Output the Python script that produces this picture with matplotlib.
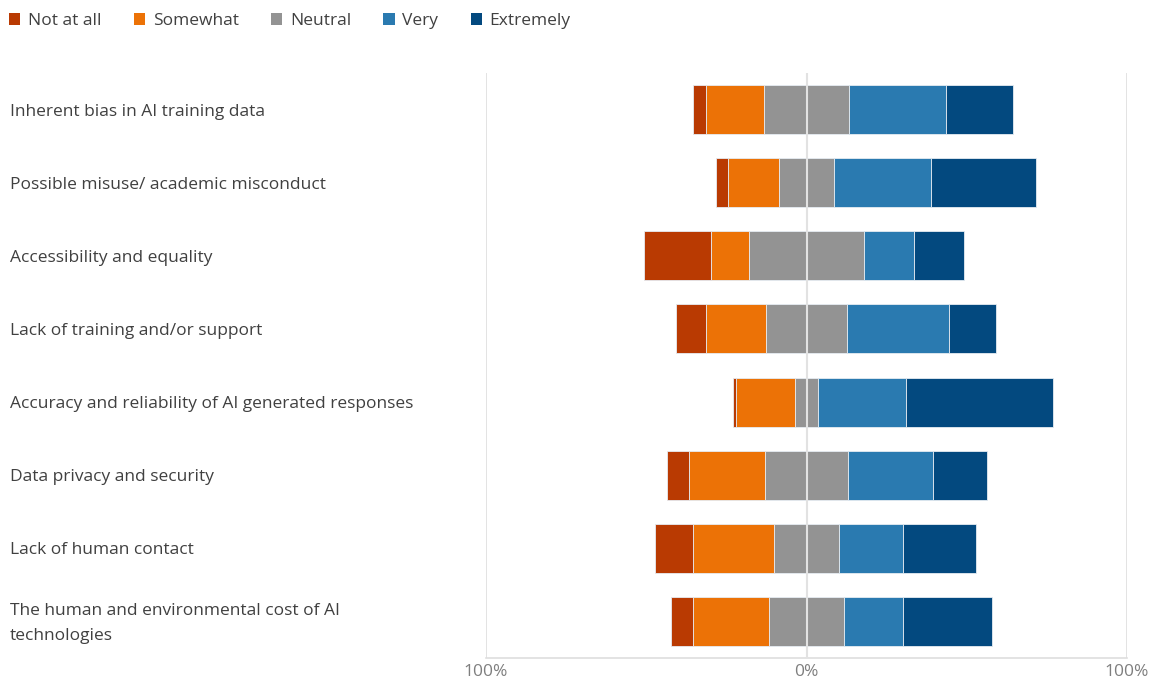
import matplotlib.pyplot as plt
import matplotlib.transforms as mtransforms
from matplotlib.patches import Patch
import numpy as np

plt.rcParams['font.family'] = ['Open Sans', 'DejaVu Sans']

concerns = [
    "Inherent bias in AI training data",
    "Possible misuse/ academic misconduct",
    "Accessibility and equality",
    "Lack of training and/or support",
    "Accuracy and reliability of AI generated responses",
    "Data privacy and security",
    "Lack of human contact",
    "The human and environmental cost of AI\ntechnologies",
]
not_at_all = [4.1, 3.7, 20.9, 9.4, 1.2, 6.6, 11.9, 6.6]
somewhat = [18.1, 15.9, 11.9, 18.7, 18.4, 23.7, 25.3, 23.7]
neutral = [26.5, 17.2, 35.6, 25.3, 6.9, 26.2, 20.0, 23.7]
very = [30.3, 30.3, 15.6, 31.8, 27.5, 26.5, 20.0, 18.4]
extremely = [20.9, 32.8, 15.6, 14.7, 45.9, 16.8, 22.8, 27.5]

categories = ["Not at all", "Somewhat", "Neutral", "Very", "Extremely"]
colors = ["#b93a02", "#ec7206", "#939393", "#2a7ab0", "#03497f"]

fig = plt.figure(figsize=(11.53, 6.82), dpi=100)
ax = fig.add_axes([486 / 1153, 24 / 682, 641 / 1153, 585 / 682])

y = np.arange(len(concerns))
half = np.array(neutral) / 2
edge = dict(edgecolor="#e6ecf2", linewidth=0.6, height=0.67)

# negative side: neutral half, then somewhat, then not at all
left = -half
ax.barh(y, half, left=left, color=colors[2], **edge)
left = left - np.array(somewhat)
ax.barh(y, somewhat, left=left, color=colors[1], **edge)
left = left - np.array(not_at_all)
ax.barh(y, not_at_all, left=left, color=colors[0], **edge)

# positive side: neutral half, very, extremely
left = np.zeros(len(concerns))
ax.barh(y, half, left=left, color=colors[2], **edge)
left = left + half
ax.barh(y, very, left=left, color=colors[3], **edge)
left = left + np.array(very)
ax.barh(y, extremely, left=left, color=colors[4], **edge)

ax.set_xlim(-100, 100)
ax.set_ylim(len(concerns) - 0.5, -0.5)
for xv in (-100, 100):
    ax.axvline(xv, color="#dedede", lw=1.2, zorder=0)
ax.axvline(0, color="#e2e2e2", lw=1.5, zorder=5)

for s in ("top", "left", "right"):
    ax.spines[s].set_visible(False)
ax.spines["bottom"].set_color("#dedede")
ax.spines["bottom"].set_linewidth(1.2)

ax.set_xticks([-100, 0, 100])
ax.set_xticklabels(["100%", "0%", "100%"], color="#7f7f7f", fontsize=12.5)
ax.tick_params(axis="x", length=0, pad=4)
ax.set_yticks([])

# category labels sit at the far left of the figure, centred on each bar
trans = mtransforms.blended_transform_factory(fig.transFigure, ax.transData)
trans = trans + mtransforms.ScaledTranslation(0, -2 / 100, fig.dpi_scale_trans)
for yi, label in zip(y, concerns):
    fig.text(10 / 1153, yi, label, transform=trans, ha="left", va="center",
             fontsize=12.5, color="#404040", linespacing=1.7)

handles = [Patch(facecolor=c, edgecolor="none") for c in colors]
fig.legend(handles, categories, loc="upper left", bbox_to_anchor=(9 / 1153, 1 - 13 / 682),
           ncol=5, frameon=False, fontsize=12.5, handlelength=0.65, handleheight=0.65,
           handletextpad=0.45, columnspacing=1.85, borderpad=0, borderaxespad=0,
           labelcolor="#404040")

fig.savefig("out.png", dpi=100)
